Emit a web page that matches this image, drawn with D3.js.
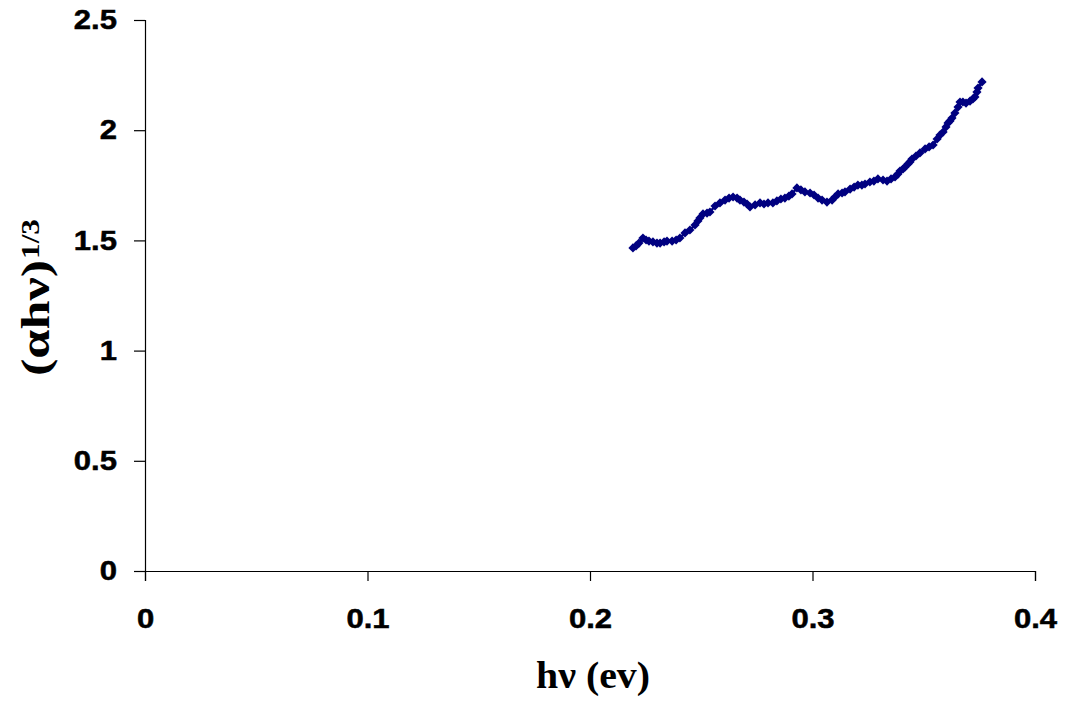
<!DOCTYPE html>
<html>
<head>
<meta charset="utf-8">
<script src="https://cdn.jsdelivr.net/npm/d3@7"></script>
<style>
  html, body { margin: 0; padding: 0; background: #fff; }
  svg { display: block; }
  .tick text { font-family: "Liberation Sans", Arial, sans-serif; font-weight: bold; font-size: 27px; fill: #000; stroke: #000; stroke-width: 0.5px; }
  .axis-title { font-family: "Liberation Serif", "Times New Roman", serif; font-weight: bold; fill: #000; }
</style>
</head>
<body>
<svg id="chart" width="1065" height="706"></svg>
<script>
// Photon energy hν (eV)
const energy = [
  0.2193, 0.2207, 0.2220, 0.2238, 0.2252, 0.2265, 0.2283, 0.2301, 0.2315, 0.2333,
  0.2346, 0.2369, 0.2387, 0.2404, 0.2427, 0.2449, 0.2472, 0.2485, 0.2494, 0.2508,
  0.2526, 0.2539, 0.2562, 0.2584, 0.2607, 0.2625, 0.2643, 0.2661, 0.2674, 0.2692,
  0.2706, 0.2719, 0.2742, 0.2764, 0.2782, 0.2800, 0.2822, 0.2840, 0.2858, 0.2876,
  0.2894, 0.2908, 0.2930, 0.2948, 0.2966, 0.2989, 0.3007, 0.3025, 0.3043, 0.3065,
  0.3088, 0.3101, 0.3115, 0.3133, 0.3146, 0.3169, 0.3187, 0.3204, 0.3222, 0.3236,
  0.3258, 0.3276, 0.3294, 0.3317, 0.3335, 0.3353, 0.3371, 0.3384, 0.3393, 0.3407,
  0.3416, 0.3429, 0.3438, 0.3447, 0.3465, 0.3483, 0.3506, 0.3524, 0.3542, 0.3560,
  0.3573, 0.3587, 0.3600, 0.3609, 0.3618, 0.3627, 0.3640, 0.3654, 0.3663, 0.3676,
  0.3690, 0.3708, 0.3721, 0.3730, 0.3739, 0.3744, 0.3762
];

// (αhν)^(1/3)
const absorption = [
  1.466, 1.475, 1.488, 1.511, 1.502, 1.497, 1.493, 1.488, 1.488, 1.493,
  1.497, 1.497, 1.502, 1.511, 1.534, 1.547, 1.570, 1.588, 1.602, 1.620,
  1.624, 1.629, 1.656, 1.670, 1.683, 1.692, 1.697, 1.692, 1.683, 1.674,
  1.665, 1.652, 1.661, 1.670, 1.665, 1.670, 1.670, 1.679, 1.688, 1.692,
  1.701, 1.711, 1.738, 1.729, 1.720, 1.715, 1.706, 1.692, 1.683, 1.674,
  1.683, 1.697, 1.711, 1.715, 1.720, 1.733, 1.742, 1.751, 1.751, 1.756,
  1.765, 1.769, 1.779, 1.774, 1.769, 1.779, 1.788, 1.801, 1.815, 1.824,
  1.833, 1.847, 1.856, 1.869, 1.883, 1.897, 1.915, 1.924, 1.933, 1.960,
  1.978, 1.992, 2.015, 2.033, 2.042, 2.055, 2.078, 2.105, 2.128, 2.128,
  2.123, 2.132, 2.142, 2.151, 2.173, 2.191, 2.219
];

const xTicks = [0, 0.1, 0.2, 0.3, 0.4];
const yTicks = [0, 0.5, 1, 1.5, 2, 2.5];

const svg = d3.select("#chart");
const plot = { left: 145, right: 1035, top: 20, bottom: 571 };
const color = "#000080";
const stretch = 1.15; // wide tick lettering

const x = d3.scaleLinear().domain([0, 0.4]).range([plot.left, plot.right]);
const y = d3.scaleLinear().domain([0, 2.5]).range([plot.bottom, plot.top]);

// Y axis
const yAxis = svg.append("g")
  .attr("transform", `translate(${plot.left},0)`)
  .call(d3.axisLeft(y).tickValues(yTicks).tickSize(11).tickPadding(17)
    .tickFormat(d => String(d)));
yAxis.select(".domain").attr("stroke", "#000").attr("stroke-width", 1.2);
yAxis.selectAll(".tick line").attr("stroke", "#000").attr("stroke-width", 1.2);
yAxis.selectAll(".tick text")
  .attr("x", -28 / stretch)
  .attr("transform", `scale(${stretch},1)`);

// X axis
const xAxis = svg.append("g")
  .attr("transform", `translate(0,${plot.bottom})`)
  .call(d3.axisBottom(x).tickValues(xTicks).tickSize(10).tickPadding(28)
    .tickFormat(d => String(d)));
xAxis.select(".domain").attr("stroke", "#000").attr("stroke-width", 1.2);
xAxis.selectAll(".tick line").attr("stroke", "#000").attr("stroke-width", 1.2);
xAxis.selectAll(".tick text").attr("transform", `scale(${stretch},1)`);

// Series: connecting line plus diamond markers
const pts = energy.map((e, i) => [e, absorption[i]]);
svg.append("path")
  .datum(pts)
  .attr("fill", "none")
  .attr("stroke", color)
  .attr("stroke-width", 2.5)
  .attr("d", d3.line().x(d => x(d[0])).y(d => y(d[1])));

const marker = d3.symbol().type(d3.symbolSquare).size(42);
svg.append("g").selectAll("path")
  .data(pts)
  .join("path")
  .attr("d", marker)
  .attr("transform", d => `translate(${x(d[0])},${y(d[1])}) rotate(45)`)
  .attr("fill", color);

// Axis titles
svg.append("text")
  .attr("class", "axis-title")
  .attr("x", 536).attr("y", 688)
  .attr("font-size", 37)
  .attr("textLength", 114)
  .attr("lengthAdjust", "spacingAndGlyphs")
  .text("hν (ev)");

const yt = svg.append("text")
  .attr("class", "axis-title")
  .attr("transform", "translate(49,376) rotate(-90)");
yt.append("tspan")
  .attr("font-size", 39)
  .attr("textLength", 116)
  .attr("lengthAdjust", "spacingAndGlyphs")
  .text("(αhν)");
yt.append("tspan")
  .attr("font-size", 26)
  .attr("dx", 1).attr("dy", -10)
  .attr("textLength", 40)
  .attr("lengthAdjust", "spacingAndGlyphs")
  .text("1/3");
</script>
</body>
</html>
